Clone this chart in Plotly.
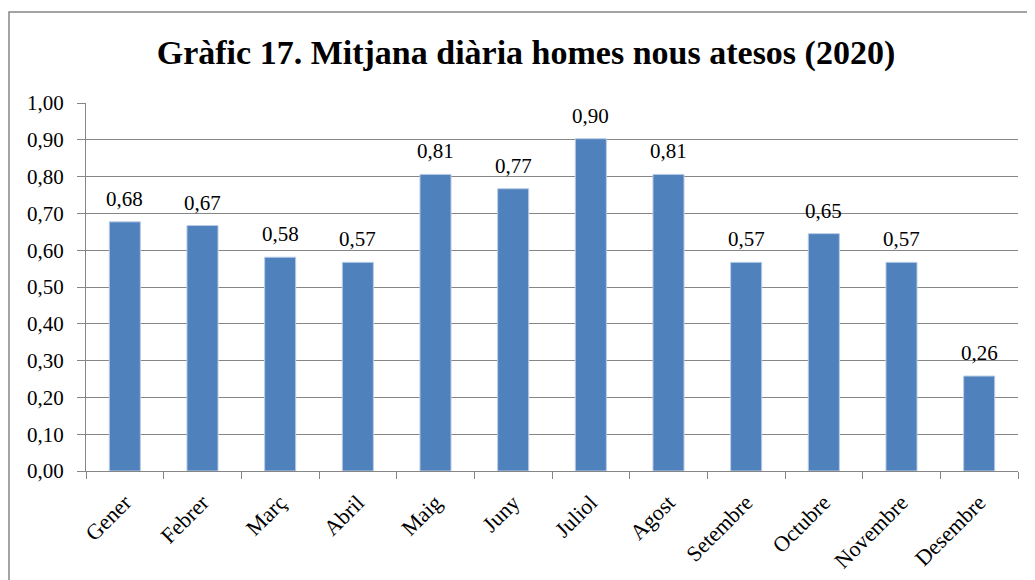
import plotly.graph_objects as go

months = ["Gener", "Febrer", "Març", "Abril", "Maig", "Juny", "Juliol",
          "Agost", "Setembre", "Octubre", "Novembre", "Desembre"]
values = [0.677, 0.667, 0.581, 0.567, 0.806, 0.767, 0.903,
          0.806, 0.567, 0.645, 0.567, 0.258]
y_ticks = [0.0, 0.1, 0.2, 0.3, 0.4, 0.5, 0.6, 0.7, 0.8, 0.9, 1.0]

OFF = 8  # page body margin
W, H = 1035, 580
# target screen positions of plot area
SX0, SX1, SY0, SY1 = 86, 1018, 103, 471
L, T = SX0 - OFF, SY0 - OFF
R = W - (SX1 - OFF)
B = H - (SY1 - OFF)
pw, ph = W - L - R, H - T - B

def px_x(s):
    return (s - SX0) / pw

def px_y(s):
    return (SY1 - s) / ph

FONT = "Liberation Serif"

fig = go.Figure(go.Bar(
    x=months, y=values,
    marker=dict(color="#4F81BD", line=dict(color="#B9CDE5", width=1)),
    hoverinfo="x+y",
))

for m, v in zip(months, values):
    fig.add_annotation(x=m, y=v, text=f"{v:.2f}".replace(".", ","),
                       showarrow=False, yanchor="bottom", yshift=9,
                       font=dict(family=FONT, size=21, color="#000000"))

fig.update_layout(
    width=W, height=H,
    margin=dict(l=L, r=R, t=T, b=B, autoexpand=False),
    paper_bgcolor="white", plot_bgcolor="white",
    separators=",.",
    bargap=0.6,
    showlegend=False,
    title=dict(text="<b>Gràfic 17. Mitjana diària homes nous atesos (2020)</b>",
               x=(526 - OFF) / W, xanchor="center", y=1 - (52 - OFF) / H,
               yanchor="middle",
               font=dict(family=FONT, size=34, color="#000000")),
    xaxis=dict(
        type="category", tickangle=-45, ticks="outside", tickson="boundaries",
        ticklen=7, tickcolor="#868686", showline=True, linecolor="#868686",
        linewidth=1, showgrid=False, ticklabelstandoff=9,
        tickfont=dict(family=FONT, size=22, color="#000000"),
    ),
    yaxis=dict(
        range=[0, 1.0], tickvals=y_ticks, tickformat=".2f",
        ticks="outside", ticklen=8, tickcolor="#868686",
        showline=True, linecolor="#868686", linewidth=1,
        showgrid=True, gridcolor="#868686", gridwidth=1,
        zeroline=False, ticklabelstandoff=9,
        tickfont=dict(family=FONT, size=21, color="#000000"),
    ),
    shapes=[dict(type="rect", xref="paper", yref="paper",
                 x0=px_x(9), x1=px_x(1050), y0=px_y(600), y1=px_y(12),
                 line=dict(color="#868686", width=1.5), layer="below")],
)

fig.write_html("out.html")
